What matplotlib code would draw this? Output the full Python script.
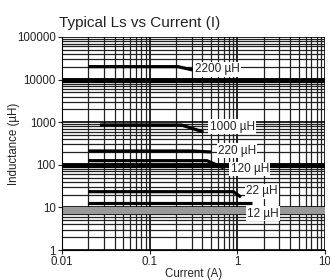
import matplotlib
matplotlib.use("Agg")
import matplotlib.pyplot as plt
import numpy as np

plt.rcParams['font.family'] = ['Liberation Sans', 'DejaVu Sans']

# Curves: current (A) and inductance (uH)
curve_names = ["2200 µH", "1000 µH", "220 µH", "120 µH", "22 µH", "12 µH"]
curve_x = [
    [0.02, 0.21, 0.31],
    [0.027, 0.23, 0.41],
    [0.02, 0.31, 0.5],
    [0.02, 0.45, 0.7],
    [0.02, 0.9, 1.1],
    [0.02, 1.45],
]
curve_y = [
    [20100, 20100, 16800],
    [860, 860, 590],
    [211, 211, 200],
    [125, 125, 84],
    [23.4, 23.4, 17.5],
    [12.9, 12.9],
]
# label anchor positions (data coords)
label_x = [0.585, 0.87, 0.99, 1.39, 1.9, 1.95]
label_y = [17500, 780, 215, 80, 24, 7.2]

heavy_lines = [10000, 100]
gray_band = [7, 10]

fig = plt.figure(figsize=(3.3, 2.8), dpi=100)
ax = fig.add_axes([0.188, 0.107, 0.797, 0.761])
ax.set_xscale('log')
ax.set_yscale('log')
ax.set_xlim(0.01, 10)
ax.set_ylim(1, 100000)

ax.grid(which='minor', axis='both', color='#222222', lw=0.9)
ax.grid(which='major', axis='both', color='black', lw=1.2)
ax.set_axisbelow(True)

ax.axhspan(gray_band[0], gray_band[1], color='#999999', lw=0, zorder=1)
for h in heavy_lines:
    ax.axhline(h, color='black', lw=3.5, zorder=1.5)

for xs, ys in zip(curve_x, curve_y):
    ax.plot(xs, ys, color='black', lw=2.3, solid_capstyle='butt', zorder=3)

for name, lx, ly in zip(curve_names, label_x, label_y):
    ax.text(lx, ly, name, ha='center', va='center', fontsize=8.5, color='#222222',
            bbox=dict(facecolor='white', edgecolor='none', pad=1.0), zorder=4)

ax.set_xticks([0.01, 0.1, 1, 10])
ax.set_xticklabels(['0.01', '0.1', '1', '10'])
ax.set_yticks([1, 10, 100, 1000, 10000, 100000])
ax.set_yticklabels(['1', '10', '100', '1000', '10000', '100000'])
ax.tick_params(which='major', length=3, width=0.8, labelsize=8.3, pad=1.5, colors='#222222')
ax.tick_params(which='minor', length=0)
for s in ax.spines.values():
    s.set_visible(False)
ax.spines['left'].set_visible(True)
ax.spines['bottom'].set_visible(True)

ax.set_xlabel('Current (A)', fontsize=8.3, labelpad=0, color='#222222')
ax.set_ylabel('Inductance (µH)', fontsize=8.3, color='#222222')
ax.yaxis.set_label_coords(-0.16, 0.5)
ax.set_title('Typical Ls vs Current (I)', fontsize=11, loc='left', x=-0.01, pad=7, color='#222222')

fig.savefig('out.png', dpi=100)
